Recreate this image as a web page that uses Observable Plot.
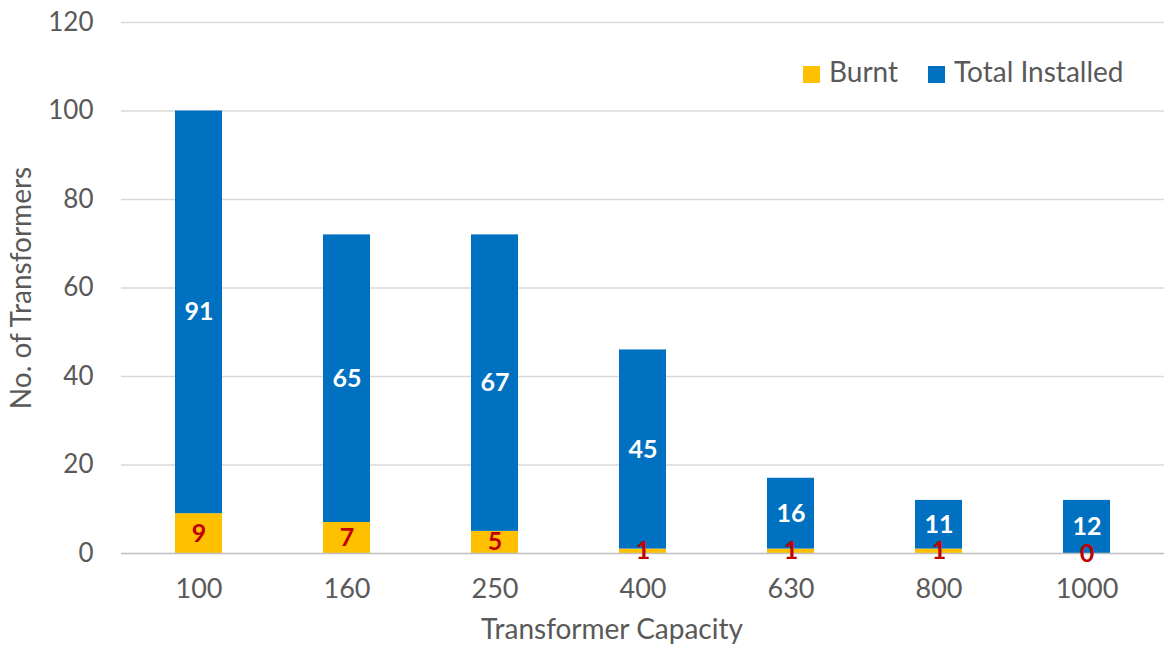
<!DOCTYPE html>
<html>
<head>
<meta charset="utf-8">
<script src="https://cdn.jsdelivr.net/npm/d3@7"></script>
<script src="https://cdn.jsdelivr.net/npm/@observablehq/plot@0.6"></script>
<style>
  html, body { margin: 0; padding: 0; background: #fff; }
  #chart { position: relative; width: 1165px; height: 646px; }
  svg { font-family: Lato, "Open Sans", sans-serif; }
</style>
</head>
<body>
<div id="chart"></div>
<script>
// ---- data ----
const capacities = ["100", "160", "250", "400", "630", "800", "1000"];
const burnt = [9, 7, 5, 1, 1, 1, 0];
const installedRest = [91, 65, 67, 45, 16, 11, 12];
const seriesNames = ["Burnt", "Total Installed"];
const seriesColors = ["#FFC000", "#0070C0"];
const yTicks = [0, 20, 40, 60, 80, 100, 120];
const xTitle = "Transformer Capacity";
const yTitle = "No. of Transformers";

const rows = [];
capacities.forEach((c, i) => {
  rows.push({capacity: c, series: seriesNames[0], value: burnt[i]});
  rows.push({capacity: c, series: seriesNames[1], value: installedRest[i]});
});

const W = 1165, H = 646;
const labelFor = name => d => d.series === name ? String(d.value) : null;

const chart = Plot.plot({
  width: W,
  height: H,
  marginLeft: 121,
  marginRight: 1,
  marginTop: 22,
  marginBottom: 93,
  style: {fontFamily: "Lato, 'Open Sans', sans-serif", background: "white"},
  x: {domain: capacities, range: [121, 1163], paddingInner: 0.685, paddingOuter: 0.34, label: null},
  y: {domain: [0, 120], ticks: yTicks, label: null},
  color: {domain: seriesNames, range: seriesColors},
  marks: [
    Plot.ruleY(yTicks.filter(t => t > 0), {stroke: "#D9D9D9", strokeWidth: 1.5}),
    Plot.barY(rows, {x: "capacity", y: "value", fill: "series", order: seriesNames}),
    Plot.ruleY([0], {stroke: "#BFBFBF", strokeWidth: 1.5}),
    Plot.text(rows, Plot.stackY({
      x: "capacity", y: "value", z: "series", order: seriesNames,
      text: labelFor(seriesNames[1]),
      fill: "white", fontWeight: "bold", fontSize: 25
    })),
    Plot.text(rows, Plot.stackY({
      x: "capacity", y: "value", z: "series", order: seriesNames,
      text: labelFor(seriesNames[0]),
      fill: "#C00000", fontWeight: "bold", fontSize: 25
    })),
    Plot.axisX({tickSize: 0, tickPadding: 25, fontSize: 27, color: "#595959", label: null}),
    Plot.axisY({ticks: yTicks, tickSize: 0, tickPadding: 28, fontSize: 26, color: "#595959", label: null})
  ]
});

document.getElementById("chart").appendChild(chart);

const svg = d3.select(chart);
// axis titles
svg.append("text")
  .attr("x", 612).attr("y", 632)
  .attr("text-anchor", "middle").attr("dominant-baseline", "middle")
  .attr("fill", "#595959").attr("font-size", 28)
  .text(xTitle);
svg.append("text")
  .attr("transform", "translate(24,288) rotate(-90)")
  .attr("text-anchor", "middle").attr("dominant-baseline", "middle")
  .attr("fill", "#595959").attr("font-size", 28)
  .text(yTitle);

// legend
const legendItems = [
  {name: seriesNames[0], color: seriesColors[0], x: 803},
  {name: seriesNames[1], color: seriesColors[1], x: 928}
];
const lg = svg.append("g").attr("text-anchor", "start");
legendItems.forEach(it => {
  lg.append("rect").attr("x", it.x).attr("y", 66).attr("width", 17).attr("height", 17).attr("fill", it.color);
  lg.append("text").attr("x", it.x + 26).attr("y", 75)
    .attr("text-anchor", "start")
    .attr("dominant-baseline", "middle").attr("fill", "#595959").attr("font-size", 28)
    .text(it.name);
});
</script>
</body>
</html>
